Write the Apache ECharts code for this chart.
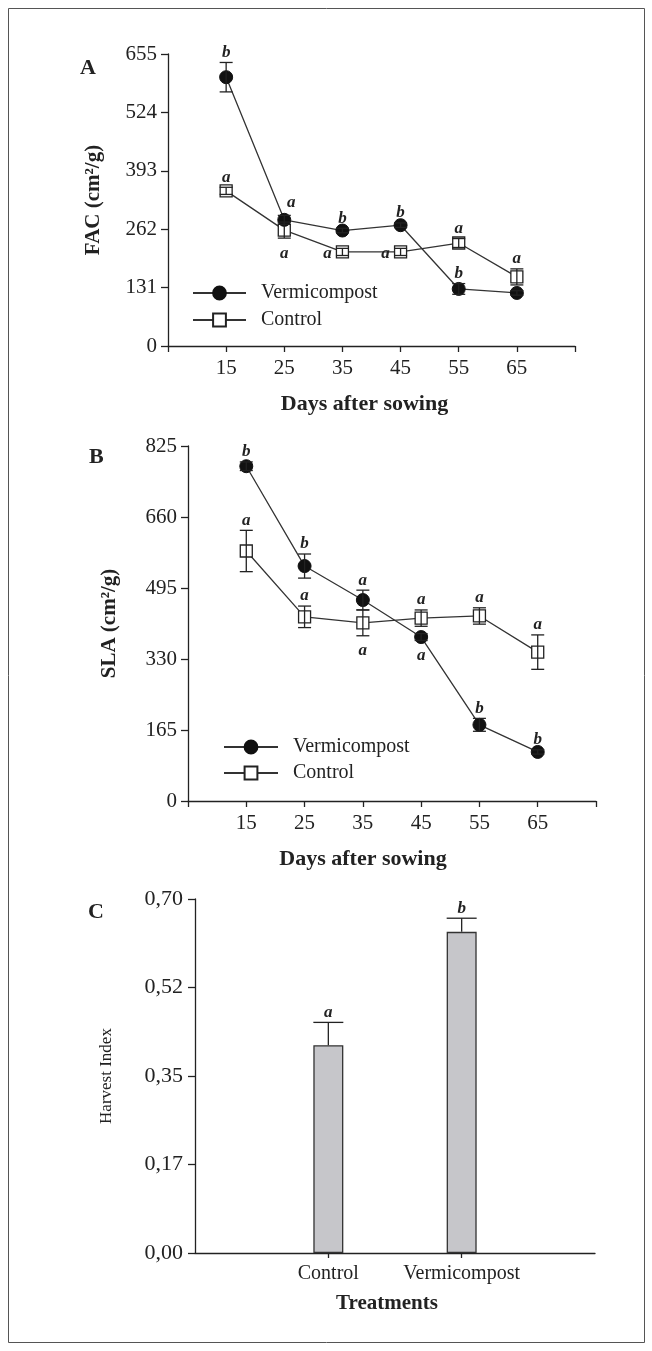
<!DOCTYPE html>
<html>
<head>
<meta charset="utf-8">
<script src="https://cdn.jsdelivr.net/npm/echarts@6/dist/echarts.min.js"></script>
<style>
html,body{margin:0;padding:0;background:#fff;}
#chart{width:652px;height:1351px;}
</style>
</head>
<body>
<div id="chart"></div>
<script>
// ---- Data ----
const days = [15, 25, 35, 45, 55, 65];

const facVermi = [603, 283, 259, 271, 128, 119];
const facVermiErr = [33, 10, 5, 5, 12, 5];
const facVermiLetters = ['b', 'a', 'b', 'b', 'b', ''];
const facControl = [348, 260, 211, 211, 231, 155];
const facControlErr = [8, 18, 8, 8, 10, 18];
const facControlLetters = ['a', 'a', 'a', 'a', 'a', 'a'];

const slaVermi = [778, 546, 467, 381, 177, 114];
const slaVermiErr = [10, 28, 23, 8, 15, 5];
const slaVermiLetters = ['b', 'b', 'a', 'a', 'b', 'b'];
const slaControl = [581, 428, 414, 425, 430, 346];
const slaControlErr = [48, 25, 30, 19, 19, 40];
const slaControlLetters = ['a', 'a', 'a', 'a', 'a', 'a'];

const treatments = ['Control', 'Vermicompost'];
const harvestIndex = [0.411, 0.635];
const harvestErr = [0.045, 0.027];
const harvestLetters = ['a', 'b'];

const facTickStep = 131;
const slaTickStep = 165;
const hiTickLabels = ['0,00', '0,17', '0,35', '0,52', '0,70'];

// ---- Letter placement (layout) ----
const facVermiSide = ['top', 'topright', 'top', 'top', 'top', 'top'];
const facControlSide = ['top', 'bottom', 'left', 'left', 'top', 'top'];
const slaVermiSide = ['top', 'top', 'top', 'bottom', 'top', 'top'];
const slaControlSide = ['top', 'top', 'bottom', 'top', 'top', 'top'];

const FONT = '"Liberation Serif", "DejaVu Serif", serif';
const INK = '#222';

function errSeries(axisIdx, xs, means, errs, letters, sides, capW, upOnly) {
  return {
    type: 'custom',
    xAxisIndex: axisIdx,
    yAxisIndex: axisIdx,
    z: 5,
    clip: false,
    silent: true,
    data: xs.map((x, i) => [x, means[i], errs[i]]),
    renderItem: function (params, api) {
      const i = params.dataIndex;
      const x = api.value(0), m = api.value(1), e = api.value(2);
      const pTop = api.coord([x, m + e]);
      const pBot = api.coord([x, upOnly ? m : m - e]);
      const st = { stroke: INK, lineWidth: 1.3 };
      const ch = [
        { type: 'line', shape: { x1: pTop[0], y1: pTop[1], x2: pBot[0], y2: pBot[1] }, style: st },
        { type: 'line', shape: { x1: pTop[0] - capW / 2, y1: pTop[1], x2: pTop[0] + capW / 2, y2: pTop[1] }, style: st }
      ];
      if (!upOnly) {
        ch.push({ type: 'line', shape: { x1: pBot[0] - capW / 2, y1: pBot[1], x2: pBot[0] + capW / 2, y2: pBot[1] }, style: st });
      }
      const letter = letters[i];
      if (letter) {
        const side = sides ? sides[i] : 'top';
        const pm = api.coord([x, m]);
        let tx = pTop[0], ty = pTop[1] - 10;
        if (side === 'bottom') { ty = pBot[1] + 15; }
        else if (side === 'left') { tx = pm[0] - 15; ty = pm[1] + 2; }
        else if (side === 'topright') { tx = pm[0] + 7; ty = pTop[1] - 13; }
        ch.push({
          type: 'text', x: tx, y: ty,
          style: { text: letter, fill: INK, font: 'italic bold 17px ' + FONT, align: 'center', verticalAlign: 'middle' }
        });
      }
      return { type: 'group', children: ch };
    }
  };
}

function lineSeries(name, axisIdx, xs, ys, filled) {
  return {
    name: name,
    type: 'line',
    xAxisIndex: axisIdx,
    yAxisIndex: axisIdx,
    data: xs.map((x, i) => [x, ys[i]]),
    symbol: filled ? 'circle' : 'rect',
    symbolSize: filled ? 13 : 12,
    z: filled ? 4 : 3,
    lineStyle: { color: '#333', width: 1.3 },
    itemStyle: filled ? { color: '#111', borderColor: '#111', borderWidth: 1 } : { color: '#fff', borderColor: INK, borderWidth: 1.3 },
    emphasis: { disabled: true }
  };
}

const axisLineStyle = { lineStyle: { color: INK, width: 1.3 } };
const tickStyle = { show: true, inside: false, length: 7, lineStyle: { color: INK, width: 1.3 } };
const labelStyle = { color: INK, fontFamily: FONT, fontSize: 21 };
const titleStyle = { color: INK, fontFamily: FONT, fontSize: 21, fontWeight: 'bold' };

function dayAxis(gridIdx, nameShift) {
  return {
    type: 'value', gridIndex: gridIdx, min: 5, max: 75, interval: 10,
    axisLine: axisLineStyle,
    axisTick: Object.assign({}, tickStyle, { length: 6 }),
    axisLabel: Object.assign({}, labelStyle, { margin: 12, formatter: v => (v === 5 || v === 75) ? '' : String(v) }),
    splitLine: { show: false },
    name: 'Days after sowing', nameLocation: 'middle', nameGap: 47,
    nameTextStyle: Object.assign({}, titleStyle, { fontSize: 22, padding: [0, nameShift, 0, 0] })
  };
}

const option = {
  animation: false,
  backgroundColor: '#fff',
  grid: [
    { left: 168, top: 54, width: 407, height: 292 },
    { left: 188, top: 446, width: 408, height: 355 },
    { left: 195, top: 899, width: 400, height: 354 }
  ],
  xAxis: [
    dayAxis(0, 14),
    dayAxis(1, 58),
    {
      type: 'category', gridIndex: 2, boundaryGap: false,
      data: [''].concat(treatments, ['']),
      axisLine: axisLineStyle,
      axisTick: Object.assign({}, tickStyle, { length: 5, interval: (idx) => idx === 1 || idx === 2 }),
      axisLabel: Object.assign({}, labelStyle, { interval: 0, margin: 11, fontSize: 20 }),
      splitLine: { show: false },
      name: 'Treatments', nameLocation: 'middle', nameGap: 40,
      nameTextStyle: Object.assign({}, titleStyle, { padding: [0, 16, 0, 0] })
    }
  ],
  yAxis: [
    {
      type: 'value', gridIndex: 0, min: 0, max: facTickStep * 5, interval: facTickStep,
      axisLine: Object.assign({ show: true }, axisLineStyle), axisTick: tickStyle,
      axisLabel: Object.assign({}, labelStyle, { margin: 11 }),
      splitLine: { show: false },
      name: 'FAC (cm²/g)', nameLocation: 'middle', nameGap: 64, nameRotate: 90,
      nameTextStyle: titleStyle
    },
    {
      type: 'value', gridIndex: 1, min: 0, max: slaTickStep * 5, interval: slaTickStep,
      axisLine: Object.assign({ show: true }, axisLineStyle), axisTick: tickStyle,
      axisLabel: Object.assign({}, labelStyle, { margin: 11 }),
      splitLine: { show: false },
      name: 'SLA (cm²/g)', nameLocation: 'middle', nameGap: 68, nameRotate: 90,
      nameTextStyle: titleStyle
    },
    {
      type: 'value', gridIndex: 2, min: 0, max: 0.7, interval: 0.175,
      axisLine: Object.assign({ show: true }, axisLineStyle), axisTick: tickStyle,
      axisLabel: Object.assign({}, labelStyle, { fontSize: 22, margin: 12, formatter: v => hiTickLabels[Math.round(v / 0.175)] }),
      splitLine: { show: false },
      name: 'Harvest Index', nameLocation: 'middle', nameGap: 80, nameRotate: 90,
      nameTextStyle: { color: INK, fontFamily: FONT, fontSize: 17 }
    }
  ],
  legend: [
    {
      left: 187, top: 278, orient: 'vertical', itemWidth: 53, itemHeight: 16, itemGap: 7,
      data: ['Vermicompost', 'Control'], selectedMode: false,
      textStyle: { color: INK, fontFamily: FONT, fontSize: 20, padding: [0, 0, 0, 10] }
    },
    {
      left: 218, top: 732, orient: 'vertical', itemWidth: 54, itemHeight: 16, itemGap: 6,
      data: ['Vermicompost', 'Control'], selectedMode: false,
      textStyle: { color: INK, fontFamily: FONT, fontSize: 20, padding: [0, 0, 0, 10] }
    }
  ],
  graphic: [
    { type: 'rect', shape: { x: 8.5, y: 8.5, width: 636, height: 1334 }, style: { fill: 'none', stroke: '#555', lineWidth: 1 }, silent: true },
    { type: 'text', left: 80, top: 57, style: { text: 'A', font: 'bold 22px ' + FONT, fill: INK } },
    { type: 'text', left: 89, top: 446, style: { text: 'B', font: 'bold 22px ' + FONT, fill: INK } },
    { type: 'text', left: 88, top: 901, style: { text: 'C', font: 'bold 22px ' + FONT, fill: INK } }
  ],
  series: [
    lineSeries('Control', 0, days, facControl, false),
    lineSeries('Vermicompost', 0, days, facVermi, true),
    errSeries(0, days, facControl, facControlErr, facControlLetters, facControlSide, 13, false),
    errSeries(0, days, facVermi, facVermiErr, facVermiLetters, facVermiSide, 13, false),

    lineSeries('Control', 1, days, slaControl, false),
    lineSeries('Vermicompost', 1, days, slaVermi, true),
    errSeries(1, days, slaControl, slaControlErr, slaControlLetters, slaControlSide, 13, false),
    errSeries(1, days, slaVermi, slaVermiErr, slaVermiLetters, slaVermiSide, 13, false),

    {
      type: 'bar', xAxisIndex: 2, yAxisIndex: 2, barWidth: 30,
      data: ['-'].concat(harvestIndex, ['-']),
      itemStyle: { color: '#c6c6ca', borderColor: '#333', borderWidth: 1.3 },
      emphasis: { disabled: true }
    },
    errSeries(2, [1, 2], harvestIndex, harvestErr, harvestLetters, null, 30, true)
  ]
};

const chart = echarts.init(document.getElementById('chart'), null, { renderer: 'canvas' });
chart.setOption(option);
</script>
</body>
</html>
